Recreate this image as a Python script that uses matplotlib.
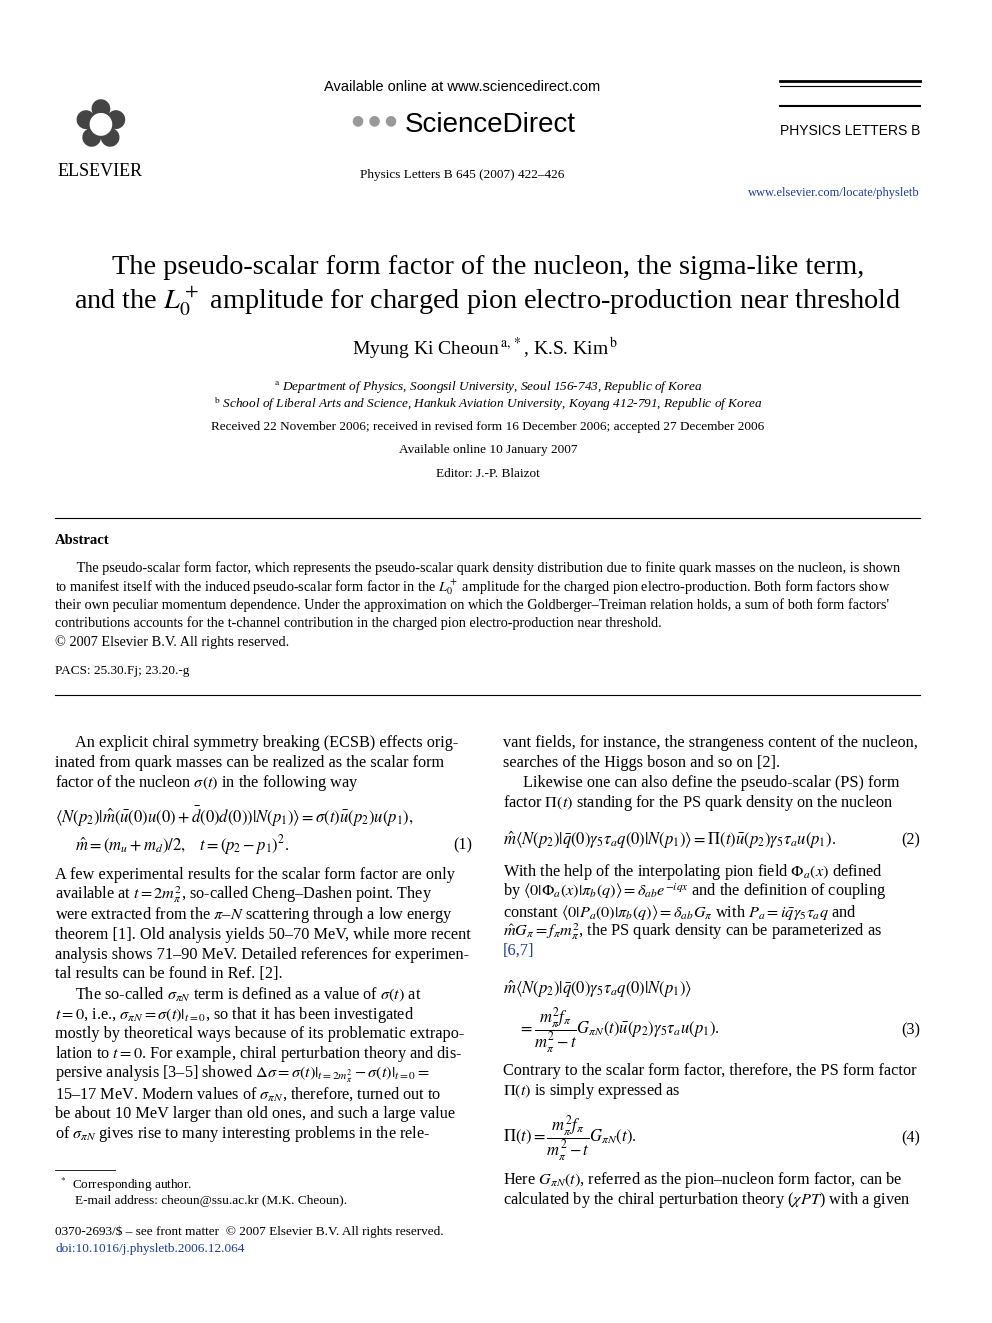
import matplotlib
matplotlib.use("Agg")
import matplotlib.pyplot as plt

W, H = 992, 1323
plt.rcParams['font.family'] = ['Liberation Serif', 'DejaVu Serif']
plt.rcParams['mathtext.fontset'] = 'stix'

BLUE = '#1a3c9a'

title_lines = ["The pseudo-scalar form factor of the nucleon, the sigma-like term,",
               r"and the $L_0^+$ amplitude for charged pion electro-production near threshold"]

abstract_lines = [
    "      The pseudo-scalar form factor, which represents the pseudo-scalar quark density distribution due to finite quark masses on the nucleon, is shown",
    r"to manifest itself with the induced pseudo-scalar form factor in the $L_0^+$ amplitude for the charged pion electro-production. Both form factors show",
    "their own peculiar momentum dependence. Under the approximation on which the Goldberger–Treiman relation holds, a sum of both form factors'",
    "contributions accounts for the t-channel contribution in the charged pion electro-production near threshold.",
    "© 2007 Elsevier B.V. All rights reserved.",
]
abstract_y = [568, 587, 605, 623, 642]

left_lines = [
    (743, 75, "An explicit chiral symmetry breaking (ECSB) effects orig-"),
    (763, 55, "inated from quark masses can be realized as the scalar form"),
    (783, 55, r"factor of the nucleon $\sigma(t)$ in the following way"),
    (875, 55, "A few experimental results for the scalar form factor are only"),
    (895, 55, r"available at $t=2m_\pi^2$, so-called Cheng–Dashen point. They"),
    (915, 55, r"were extracted from the $\pi$–$N$ scattering through a low energy"),
    (935, 55, "theorem [1]. Old analysis yields 50–70 MeV, while more recent"),
    (955, 55, "analysis shows 71–90 MeV. Detailed references for experimen-"),
    (974, 55, "tal results can be found in Ref. [2]."),
    (995, 75, r"The so-called $\sigma_{\pi N}$ term is defined as a value of $\sigma(t)$ at"),
    (1015, 55, r"$t=0$, i.e., $\sigma_{\pi N}=\sigma(t)|_{t=0}$, so that it has been investigated"),
    (1034, 55, "mostly by theoretical ways because of its problematic extrapo-"),
    (1054, 55, r"lation to $t=0$. For example, chiral perturbation theory and dis-"),
    (1074, 55, r"persive analysis [3–5] showed $\Delta\sigma=\sigma(t)|_{t=2m_\pi^2}-\sigma(t)|_{t=0}=$"),
    (1094, 55, r"15–17 MeV. Modern values of $\sigma_{\pi N}$, therefore, turned out to"),
    (1114, 55, "be about 10 MeV larger than old ones, and such a large value"),
    (1134, 55, r"of $\sigma_{\pi N}$ gives rise to many interesting problems in the rele-"),
]

right_lines = [
    (743, 503, "vant fields, for instance, the strangeness content of the nucleon,"),
    (763, 503, "searches of the Higgs boson and so on [2]."),
    (783, 523, "Likewise one can also define the pseudo-scalar (PS) form"),
    (803, 503, r"factor $\mathit{\Pi}(t)$ standing for the PS quark density on the nucleon"),
    (872, 503, r"With the help of the interpolating pion field $\mathit{\Phi}_a(x)$ defined"),
    (892, 503, r"by $\langle 0|\mathit{\Phi}_a(x)|\pi_b(q)\rangle=\delta_{ab}e^{-iqx}$ and the definition of coupling"),
    (912, 503, r"constant $\langle 0|P_a(0)|\pi_b(q)\rangle=\delta_{ab}G_\pi$ with $P_a=i\bar{q}\gamma_5\tau_a q$ and"),
    (932, 503, r"$\hat{m}G_\pi=f_\pi m_\pi^2$, the PS quark density can be parameterized as"),
    (1071, 503, "Contrary to the scalar form factor, therefore, the PS form factor"),
    (1091, 503, r"$\mathit{\Pi}(t)$ is simply expressed as"),
    (1180, 503, r"Here $G_{\pi N}(t)$, referred as the pion–nucleon form factor, can be"),
    (1200, 503, r"calculated by the chiral perturbation theory ($\chi PT$) with a given"),
]

equations = [
    (817, 55, r"$\langle N(p_2)|\hat{m}(\bar{u}(0)u(0)+\bar{d}(0)d(0))|N(p_1)\rangle=\sigma(t)\bar{u}(p_2)u(p_1),$", None),
    (845, 75, r"$\hat{m}=(m_u+m_d)/2,\quad t=(p_2-p_1)^2.$", (472, "(1)")),
    (840, 503, r"$\hat{m}\langle N(p_2)|\bar{q}(0)\gamma_5\tau_a q(0)|N(p_1)\rangle=\mathit{\Pi}(t)\bar{u}(p_2)\gamma_5\tau_a u(p_1).$", (920, "(2)")),
    (989, 503, r"$\hat{m}\langle N(p_2)|\bar{q}(0)\gamma_5\tau_a q(0)|N(p_1)\rangle$", None),
    (1030, 518, r"$=\dfrac{m_\pi^2 f_\pi}{m_\pi^2-t}G_{\pi N}(t)\bar{u}(p_2)\gamma_5\tau_a u(p_1).$", (920, "(3)")),
    (1138, 503, r"$\mathit{\Pi}(t)=\dfrac{m_\pi^2 f_\pi}{m_\pi^2-t}G_{\pi N}(t).$", (920, "(4)")),
]

fig = plt.figure(figsize=(W / 100, H / 100), dpi=100)
fig.patch.set_facecolor('white')


def put(x, y, s, size=10.5, ha='left', **kw):
    fig.text(x / W, 1 - y / H, s, ha=ha, va='center', fontsize=size, **kw)


def hline(x0, x1, y, lw=0.8):
    fig.add_artist(plt.Line2D([x0 / W, x1 / W], [1 - y / H, 1 - y / H], color='black', lw=lw))


# header
put(100, 128, "✿", size=48, ha='center', color='#444444', family=['DejaVu Sans'])
put(100, 172, "ELSEVIER", size=13, ha='center')
put(462, 87, "Available online at www.sciencedirect.com", size=10.5, ha='center', family=['Liberation Sans'])
put(375, 120, "● ● ●", size=10, ha='center', color='#999999', family=['DejaVu Sans'])
put(490, 125, "ScienceDirect", size=20, ha='center', family=['Liberation Sans'])
put(462, 175, "Physics Letters B 645 (2007) 422–426", size=9.5, ha='center')
hline(780, 920, 81, 2.0)
hline(780, 920, 86, 0.8)
hline(780, 920, 106, 1.5)
put(920, 131, "PHYSICS LETTERS B", size=10, ha='right', family=['Liberation Sans'])
put(920, 193, "www.elsevier.com/locate/physletb", size=9, ha='right', color=BLUE)

# title block
put(488, 268, title_lines[0], size=20.3, ha='center')
put(488, 301, title_lines[1], size=20.3, ha='center')
put(485, 349, r"Myung Ki Cheoun$^{\,\mathrm{a},*}$, K.S. Kim$^{\,\mathrm{b}}$", size=14, ha='center')
put(488, 387, r"$^{\mathrm{a}}$ Department of Physics, Soongsil University, Seoul 156-743, Republic of Korea", size=9.5, ha='center', style='italic')
put(488, 404, r"$^{\mathrm{b}}$ School of Liberal Arts and Science, Hankuk Aviation University, Koyang 412-791, Republic of Korea", size=9.5, ha='center', style='italic')
put(488, 427, "Received 22 November 2006; received in revised form 16 December 2006; accepted 27 December 2006", size=9.5, ha='center')
put(488, 450, "Available online 10 January 2007", size=9.5, ha='center')
put(488, 474, "Editor: J.-P. Blaizot", size=9.5, ha='center')

hline(55, 920, 518)
put(55, 541, "Abstract", size=10.5, weight='bold')
for y, s in zip(abstract_y, abstract_lines):
    put(55, y, s, size=10.3)
put(55, 671, "PACS: 25.30.Fj; 23.20.-g", size=9.5)
hline(55, 920, 695)

# body
for y, x, s in left_lines + right_lines:
    put(x, y, s, size=11.7)
put(503, 951, "[6,7]", size=11.7, color=BLUE)
for y, x, s, num in equations:
    put(x, y, s, size=12)
    if num:
        put(num[0], y, num[1], size=11.7, ha='right')

# footnote / bottom
hline(55, 115, 1170, 0.6)
put(60, 1185, r"$^{*}$  Corresponding author.", size=9.5)
put(75, 1201, "E-mail address: cheoun@ssu.ac.kr (M.K. Cheoun).", size=9.5)
put(55, 1232, "0370-2693/$ – see front matter  © 2007 Elsevier B.V. All rights reserved.", size=9.5)
put(55, 1249, "doi:10.1016/j.physletb.2006.12.064", size=9.5, color=BLUE)

fig.savefig('out.png', dpi=100)
